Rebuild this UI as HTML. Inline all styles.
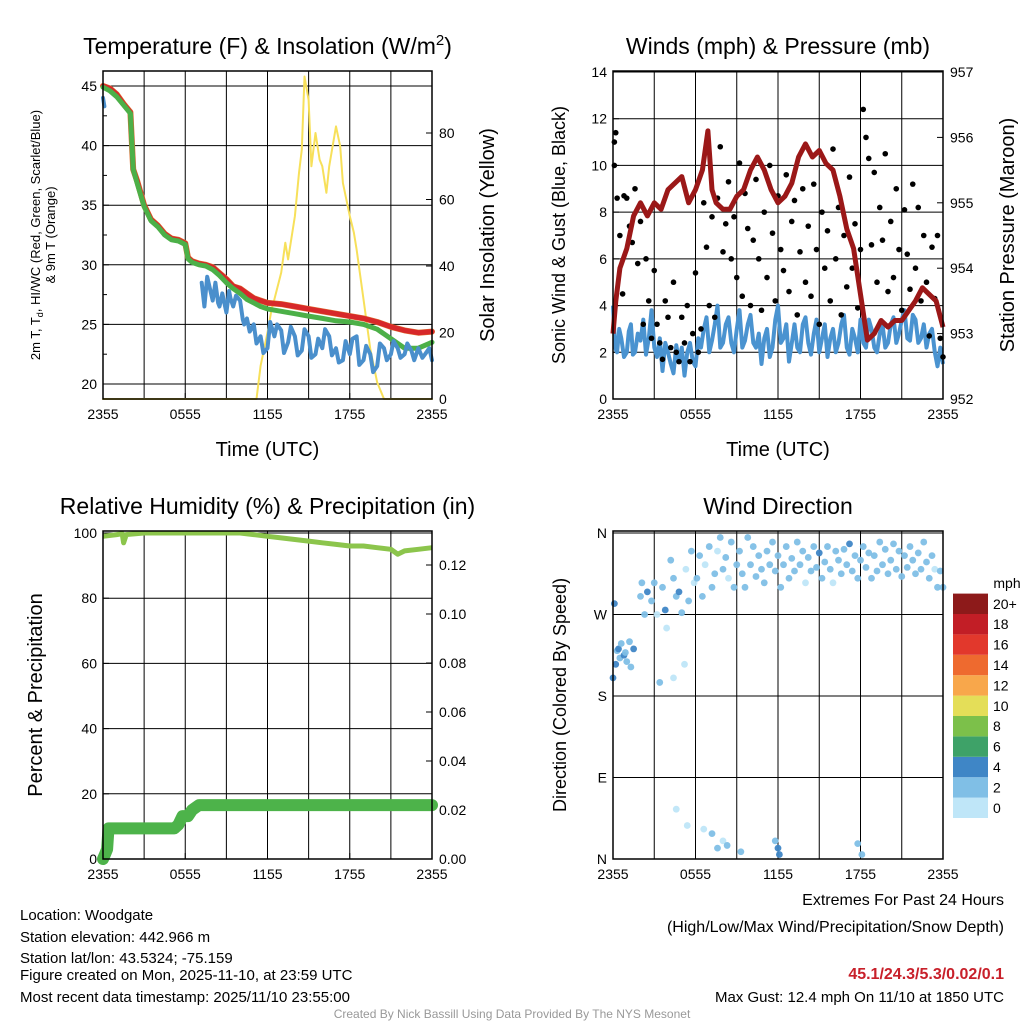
<!DOCTYPE html>
<html><head><meta charset="utf-8"><style>
body{margin:0;background:#fff;font-family:"Liberation Sans",sans-serif}
svg text{font-family:"Liberation Sans",sans-serif}
</style></head><body>
<svg id="s" width="1024" height="1024" viewBox="0 0 1024 1024">
<g id="g1"></g>
<g id="g2"></g>
<g id="g3"></g>
<g id="g4"></g>
<g font-size="15" fill="#000">
<text x="20" y="920">Location: Woodgate</text>
<text x="20" y="942">Station elevation: 442.966 m</text>
<text x="20" y="963">Station lat/lon: 43.5324; -75.159</text>
<text x="20" y="980">Figure created on Mon, 2025-11-10, at 23:59 UTC</text>
<text x="20" y="1002">Most recent data timestamp: 2025/11/10 23:55:00</text>
<text x="1004" y="905" text-anchor="end" font-size="16">Extremes For Past 24 Hours</text>
<text x="1004" y="932" text-anchor="end" font-size="16">(High/Low/Max Wind/Precipitation/Snow Depth)</text>
<text x="1004" y="979" text-anchor="end" font-size="16" font-weight="bold" fill="#c8202a">45.1/24.3/5.3/0.02/0.1</text>
<text x="1004" y="1002" text-anchor="end" font-size="15">Max Gust: 12.4 mph On 11/10 at 1850 UTC</text>
<text x="512" y="1018" text-anchor="middle" font-size="12" fill="#999">Created By Nick Bassill Using Data Provided By The NYS Mesonet</text>
</g>
</svg>
<script>
// ---- data ----
const xTickLabels=["2355","0555","1155","1755","2355"];
const tempRed=[[0,45],[0.5,44.8],[1,44.3],[1.5,43.5],[2,42.8],[2.2,38],[2.5,37],[3,35],[3.5,33.8],[4,33.3],[4.5,32.6],[5,32.2],[5.5,32.1],[6,31.8],[6.2,30.6],[6.5,30.3],[7,30.1],[7.5,30],[8,29.8],[8.5,29.3],[9,28.8],[9.5,28.2],[10,28],[10.5,27.6],[11,27.2],[11.5,27],[12,26.8],[13,26.7],[14,26.5],[15,26.3],[16,26.1],[17,25.9],[18,25.7],[19,25.5],[20,25.2],[21,24.8],[22,24.5],[23,24.3],[24,24.4]];
const tempGreen=[[0,44.9],[0.5,44.6],[1,44.1],[1.5,43.4],[2,42.7],[2.2,38],[2.5,36.8],[3,34.9],[3.5,33.7],[4,33.2],[4.5,32.5],[5,32.1],[5.5,32],[6,31.7],[6.2,30.5],[6.5,30.2],[7,30],[7.5,29.9],[8,29.6],[8.5,29.1],[9,28.5],[9.5,28],[10,27.6],[10.5,27.1],[11,26.8],[11.5,26.5],[12,26.3],[13,26.1],[14,25.9],[15,25.7],[16,25.5],[17,25.3],[18,25.2],[19,25],[20,24.6],[21,23.8],[22,23],[23,23],[24,23.5]];
const dewBlue=[[7.2,28.5],[7.4,26.5],[7.6,29],[7.8,28],[8,27],[8.2,28.5],[8.4,26.8],[8.5,26.5],[8.7,27.6],[9,26],[9.2,27.8],[9.3,27.2],[9.5,26.5],[9.7,27.4],[10,27],[10.2,25.4],[10.3,25],[10.5,25.5],[10.7,24.4],[11,25],[11.2,23.4],[11.5,24],[11.7,22.6],[12,23],[12.2,25.2],[12.4,24.4],[12.5,24],[12.7,25],[13,24.5],[13.2,22.6],[13.5,23.5],[13.7,24.8],[14,24],[14.2,22.4],[14.5,22.8],[14.7,24.6],[15,24],[15.2,22.2],[15.5,22.5],[15.7,23.8],[16,23],[16.2,24.6],[16.5,24],[16.7,22.4],[17,23],[17.2,21.8],[17.5,22],[17.7,23.6],[18,22.5],[18.2,23.8],[18.5,24],[18.7,21.6],[19,22],[19.2,23.2],[19.5,22.5],[19.7,21],[20,21.5],[20.2,23.4],[20.5,23],[20.7,22],[21,22.5],[21.2,23.6],[21.5,23],[21.7,22.2],[22,22.5],[22.2,23.4],[22.5,22.8],[22.7,22],[23,23],[23.3,22.2],[23.5,22.5],[23.8,23],[24,22]];
const dewStart=[[0,44],[0.1,43.3]];
const solar=[[0,0],[11.2,0],[11.5,10],[12,20],[12.3,27],[12.5,30],[13,38],[13.3,47],[13.5,42],[14,55],[14.3,68],[14.5,75],[14.7,97],[15,90],[15.2,70],[15.5,80],[15.8,72],[16,70],[16.3,62],[16.5,70],[17,82],[17.3,76],[17.5,65],[18,55],[18.3,50],[18.5,45],[19,30],[19.5,15],[20,5],[20.5,0],[24,0]];
const pressure=[[0,953],[0.2,953.5],[0.5,954],[1,954.3],[1.5,954.8],[2,955],[2.5,954.8],[3,955],[3.5,954.9],[4,955.2],[5,955.4],[5.5,955],[6,955.2],[6.5,955.5],[6.9,956.1],[7.2,955.2],[7.5,955],[8,954.9],[8.5,954.9],[9,955.1],[9.5,955.2],[10,955.5],[10.5,955.7],[11,955.5],[11.5,955.2],[12,955],[12.5,955.1],[13,955.3],[13.5,955.7],[14,955.9],[14.5,955.7],[15,955.8],[15.5,955.6],[16,955.5],[16.5,955.1],[17,954.6],[17.5,954.3],[18,953.6],[18.5,952.9],[19,953],[19.5,953.2],[20,953.1],[20.5,953.2],[21,953.2],[22,953.5],[22.5,953.7],[23,953.6],[23.5,953.5],[24,953.1]];
const sonic=[[0,4],[0.15,2.2],[0.3,2],[0.45,3],[0.6,2.6],[0.8,1.8],[1,2],[1.15,2.9],[1.3,3.2],[1.45,1.9],[1.6,2],[1.8,2.8],[2,2.5],[2.2,3.4],[2.4,1.9],[2.6,2.6],[2.8,3.8],[3,2.2],[3.2,1.8],[3.4,2.6],[3.6,1.2],[3.8,2.4],[4,2],[4.2,1.5],[4.4,1.1],[4.6,2.3],[4.8,1.6],[5,2.2],[5.2,1],[5.4,2],[5.6,2.4],[5.8,1.6],[6,1.4],[6.2,2.6],[6.4,2.2],[6.6,3],[6.8,3.5],[7,2],[7.2,2.5],[7.4,3.2],[7.6,4],[7.8,2.2],[8,2.4],[8.2,3.2],[8.4,3.5],[8.6,2.4],[8.8,2],[9,3],[9.2,3.8],[9.4,2.2],[9.6,2.5],[9.8,3.2],[10,3.6],[10.2,2.4],[10.4,2.2],[10.6,2.8],[10.8,1.5],[11,2.6],[11.2,3],[11.4,1.8],[11.6,2.2],[11.8,3.4],[12,4],[12.2,2.4],[12.4,2.6],[12.6,3.2],[12.8,1.6],[13,2.4],[13.2,3.2],[13.4,2.2],[13.6,2],[13.8,3.2],[14,3.5],[14.2,2.4],[14.4,1.9],[14.6,2.8],[14.8,3.4],[15,2],[15.2,2.6],[15.4,3.2],[15.6,1.8],[15.8,2.6],[16,3],[16.2,2],[16.4,2.4],[16.6,3.2],[16.8,3.6],[17,2.2],[17.2,1.9],[17.4,3],[17.6,2.6],[17.8,2],[18,3.4],[18.2,2.4],[18.4,2.2],[18.6,3.4],[18.8,3],[19,2.2],[19.2,2],[19.4,2.8],[19.6,3.2],[19.8,2.2],[20,2.4],[20.2,3.2],[20.4,3.5],[20.6,2.4],[20.8,2.8],[21,3.4],[21.2,3.8],[21.4,2.6],[21.6,2.5],[21.8,3.6],[22,3.4],[22.2,2.4],[22.4,2.6],[22.6,3.2],[22.8,2.2],[23,2.8],[23.2,3],[23.4,2],[23.6,1.4],[23.8,2.2],[24,1.5]];
const gusts=[[0.1,11],[0.1,10],[0.2,11.4],[0.3,8.6],[0.5,7],[0.7,4.5],[0.8,8.7],[1,8.6],[1.2,7.4],[1.4,6.7],[1.6,9],[1.8,5.8],[2,7.6],[2.2,3.2],[2.4,6],[2.6,4.2],[2.8,2.6],[3,5.5],[3.2,3.2],[3.4,2.4],[3.6,1.7],[3.8,4.2],[4,3.5],[4.2,2.2],[4.4,5],[4.6,2],[4.8,1.6],[5,3.5],[5.2,2.4],[5.4,4],[5.6,1.6],[5.8,2.8],[6,5.4],[6.2,2],[6.4,3],[6.6,8.4],[6.8,6.5],[7,4],[7.2,7.8],[7.4,3.5],[7.6,8.6],[7.8,10.8],[8,6.3],[8.2,7.5],[8.4,9.3],[8.6,6],[8.8,7.8],[9,5.2],[9.2,10.1],[9.4,4.4],[9.6,8.8],[9.8,7.3],[10,4],[10.2,6.8],[10.4,9.4],[10.6,6],[10.8,3.8],[11,8],[11.2,5.2],[11.4,10],[11.6,7.1],[11.8,4.2],[12,8.7],[12.2,6.4],[12.4,5.5],[12.6,9.6],[12.8,4.6],[13,7.6],[13.2,8.5],[13.4,3.6],[13.6,6.3],[13.8,9],[14,5],[14.2,7.4],[14.4,4.4],[14.6,9.2],[14.8,6.4],[15,3.2],[15.2,8],[15.4,5.6],[15.6,7.2],[15.8,4.2],[16,10.7],[16.2,6],[16.4,8.2],[16.6,3.6],[16.8,7],[17,4.8],[17.2,9.5],[17.4,5.6],[17.6,7.5],[17.8,3.9],[18,6.4],[18.2,12.4],[18.4,11.2],[18.6,10.3],[18.8,6.6],[19,9.7],[19.2,5],[19.4,8.2],[19.6,6.8],[19.8,10.5],[20,4.6],[20.2,7.6],[20.4,5.2],[20.6,9],[20.8,6.4],[21,3.8],[21.2,8.1],[21.4,6.2],[21.6,4.7],[21.8,9.2],[22,5.6],[22.2,8.2],[22.4,4.2],[22.6,7],[22.8,5],[23,2.7],[23.2,6.5],[23.4,4.3],[23.6,7],[23.8,2.6],[24,1.8]];
const rh=[[0,99],[1,99.5],[1.4,99.8],[1.5,97],[1.7,99.5],[3,100],[10,100],[11,99.5],[12,99],[13,98.5],[14,98],[15,97.5],[16,97],[17,96.5],[18,96],[19,96],[20,95.5],[21,95],[21.5,93.5],[22,94.5],[23,95],[24,95.5]];
const precip=[[0,0],[0.15,0.002],[0.3,0.004],[0.4,0.0125],[5.2,0.0125],[5.5,0.014],[5.8,0.0175],[6.2,0.0175],[6.5,0.02],[7,0.022],[24,0.022]];
const windDir=[[0,200,4],[0.1,282,4],[0.2,215,5],[0.3,230,3],[0.4,232,4],[0.5,222,3],[0.6,238,3],[0.8,225,4],[0.9,228,3],[1.0,218,3],[1.2,240,2],[1.3,212,3],[1.5,232,4],[2,290,3],[2.1,305,2],[2.3,270,3],[2.5,295,4],[2.8,285,3],[3,305,3],[3.2,270,1],[3.4,195,3],[3.6,300,2],[3.8,275,4],[3.9,255,1],[4.2,330,3],[4.4,310,2],[4.6,290,3],[4.8,295,4],[5,272,2],[5.3,320,1],[5.5,285,3],[5.7,340,2],[5.9,305,1],[6.1,310,3],[6.3,335,2],[6.5,290,3],[6.7,325,1],[7,345,3],[7.2,300,2],[7.4,315,3],[7.6,340,1],[7.8,355,3],[8,320,3],[8.2,333,2],[8.4,310,1],[8.6,350,3],[8.8,300,2],[9,325,3],[9.2,340,3],[9.4,315,2],[9.6,300,3],[9.8,355,3],[10,325,2],[10.2,345,3],[10.4,312,3],[10.6,335,2],[10.8,320,3],[11,305,2],[11.2,340,3],[11.4,325,3],[11.6,350,2],[11.8,318,3],[12,335,3],[12.2,300,2],[12.4,325,3],[12.6,345,3],[12.8,310,2],[13,332,3],[13.2,318,3],[13.4,350,2],[13.6,325,3],[13.8,340,3],[14,305,1],[14.2,333,3],[14.4,318,2],[14.6,345,3],[14.8,322,3],[15,338,4],[15.2,310,3],[15.4,328,2],[15.6,345,3],[15.8,320,3],[16,305,1],[16.2,340,3],[16.4,330,3],[16.6,315,2],[16.8,342,3],[17,325,3],[17.2,348,4],[17.4,318,3],[17.6,335,2],[17.8,310,3],[18,330,3],[18.2,345,2],[18.4,322,3],[18.6,338,3],[18.8,310,2],[19,335,3],[19.2,318,3],[19.4,350,2],[19.6,325,3],[19.8,342,3],[20,315,2],[20.2,330,3],[20.4,348,3],[20.6,320,2],[20.8,340,3],[21,312,3],[21.2,335,2],[21.4,322,3],[21.6,345,3],[21.8,330,3],[22,315,2],[22.2,338,3],[22.4,320,3],[22.6,350,2],[22.8,328,3],[23,310,3],[23.2,335,2],[23.4,320,1],[23.6,300,3],[23.8,318,2],[24,300,2],[4.4,200,1],[5.2,215,1],[4.6,55,1],[5.4,37,1],[6.6,33,1],[7.2,28,2],[7.6,12,3],[8,20,1],[8.3,15,3],[9.3,8,2],[11.8,20,3],[12,12,4],[12.1,5,4],[17.8,17,3],[18.1,5,2]];
const cbLabels=["0","2","4","6","8","10","12","14","16","18","20+"];
const cbColors=["#bfe6f8","#80bfe6","#3f86c6","#3ea268","#7cc04a","#e4de58","#f8a74b","#ee6a2f","#e2382c","#c21e26","#8d1a1a"];

const NS="http://www.w3.org/2000/svg";
function mk(p,tag,at,txt){const e=document.createElementNS(NS,tag);for(const k in at)e.setAttribute(k,at[k]);if(txt!==undefined)e.textContent=txt;p.appendChild(e);return e;}
function lin(d0,d1,r0,r1){return v=>r0+(v-d0)*(r1-r0)/(d1-d0);}
function pathOf(arr,sx,sy){return arr.map((p,i)=>(i?"L":"M")+sx(p[0]).toFixed(1)+","+sy(p[1]).toFixed(1)).join("");}

function frame(g,L,T,R,B,title,xlab){
  const sx=lin(0,24,L,R);
  for(let h=3;h<24;h+=3){const l=mk(g,"line",{x1:sx(h),x2:sx(h),y1:T,y2:B,stroke:"#000","stroke-width":1});
    
    }
  xTickLabels.forEach((t,i)=>{const x=sx(i*6);
    const e=mk(g,"text",{x:x,y:B+20,"font-size":14,"text-anchor":"middle"},t);
    
    
    mk(g,"line",{x1:x,x2:x,y1:B,y2:B-6,stroke:"#000"});});
  const tt=mk(g,"text",{x:(L+R)/2,y:T-17,"font-size":23,"text-anchor":"middle"});tt.innerHTML=title;
  
  
  if(xlab){const xl=mk(g,"text",{x:(L+R)/2,y:B+57,"font-size":20,"text-anchor":"middle"},xlab);
    
    }
  return sx;
}
function yAxis(g,L,R,sy,ticks,fmt,side,grid){
  ticks.forEach(v=>{const y=sy(v);
    if(grid)mk(g,"line",{x1:L,x2:R,y1:y,y2:y,stroke:"#000","stroke-width":1});
    const x=side=="l"?L:R;
    mk(g,"line",{x1:x,x2:side=="l"?x+6:x-6,y1:y,y2:y,stroke:"#000"});
    const e=mk(g,"text",{x:side=="l"?x-6:x+7,y:y+5,"font-size":14,"text-anchor":side=="l"?"end":"start"},fmt(v));
    
    
  });
}
function box(g,L,T,R,B){const r=mk(g,"rect",{x:L,y:T,width:R-L,height:B-T,fill:"none",stroke:"#000","stroke-width":1.5});
  }
function rotText(g,x,y,txt,size,name){const e=mk(g,"text",{x:0,y:0,"font-size":size,"text-anchor":"middle",transform:`translate(${x},${y}) rotate(-90)`},txt);
  return e;}

// Panel 1
(function(){
 const g=document.getElementById("g1");const L=103,T=71,R=432,B=399;
 const sx=frame(g,L,T,R,B,'Temperature (F) &amp; Insolation (W/m<tspan dy="-9" font-size="15">2</tspan><tspan dy="9">)</tspan>',"Time (UTC)");
 const sy=lin(20,45,384,86), sy2=lin(0,80,399,133);
 yAxis(g,L,R,sy,[20,25,30,35,40,45],v=>v,"l",true);
 yAxis(g,L,R,sy2,[0,20,40,60,80],v=>v,"r",false);
 [22.5,27.5,32.5,37.5,42.5].forEach(v=>mk(g,"line",{x1:L,x2:L+4,y1:sy(v),y2:sy(v),stroke:"#000"}));
 const p=(a,c,w,n,s2)=>{const e=mk(g,"path",{d:pathOf(a,sx,s2||sy),fill:"none",stroke:c,"stroke-width":w,"stroke-linejoin":"round","stroke-linecap":"round"});
   };
 p(solar,"#f7e05a",2,"solar-insolation-line",sy2);
 p(tempRed,"#e07030",6,"9m-temp-line");
 p(tempRed,"#d7282a",5,"2m-temp-line");
 p(tempGreen,"#4cb048",5,"wind-chill-line");
 p(dewStart,"#4a8fcc",4,"dewpoint-start-line");
 p(dewBlue,"#4a8fcc",4,"dewpoint-line");
 box(g,L,T,R,B);
 const e=rotText(g,40,235,"",13,"left-axis-title");
 e.innerHTML='<tspan x="0" dy="0">2m T, T<tspan font-size="9" dy="3">d</tspan><tspan dy="-3">, HI/WC (Red, Green, Scarlet/Blue)</tspan></tspan><tspan x="0" dy="15">&amp; 9m T (Orange)</tspan>';
 rotText(g,494,235,"Solar Insolation (Yellow)",20,"right-axis-title");
})();

// Panel 2
(function(){
 const g=document.getElementById("g2");const L=613,T=71,R=943,B=399;
 const sx=frame(g,L,T,R,B,"Winds (mph) &amp; Pressure (mb)","Time (UTC)");
 const sy=lin(0,14,399,72), sy2=lin(952,957,399,72);
 yAxis(g,L,R,sy,[0,2,4,6,8,10,12,14],v=>v,"l",true);
 yAxis(g,L,R,sy2,[952,953,954,955,956,957],v=>v,"r",false);
 const s=mk(g,"path",{d:pathOf(sonic,sx,sy),fill:"none",stroke:"#4a93d0","stroke-width":4,"stroke-linejoin":"round"});
 
 gusts.forEach(d=>{const c=mk(g,"circle",{cx:sx(d[0]),cy:sy(d[1]),r:2.8,fill:"#000"});
   });
 const pr=mk(g,"path",{d:pathOf(pressure,sx,sy2),fill:"none",stroke:"#9b1818","stroke-width":5,"stroke-linejoin":"round"});
 
 box(g,L,T,R,B);
 rotText(g,565,235,"Sonic Wind & Gust (Blue, Black)",18,"left-axis-title");
 rotText(g,1014,235,"Station Pressure (Maroon)",20,"right-axis-title");
})();

// Panel 3
(function(){
 const g=document.getElementById("g3");const L=103,T=531,R=432,B=859;
 const sx=frame(g,L,T,R,B,"Relative Humidity (%) &amp; Precipitation (in)",null);
 const sy=lin(0,100,859,533), sy2=lin(0,0.12,859,565);
 yAxis(g,L,R,sy,[0,20,40,60,80,100],v=>v,"l",true);
 yAxis(g,L,R,sy2,[0,0.02,0.04,0.06,0.08,0.1,0.12],v=>v.toFixed(2),"r",false);
 const a=mk(g,"path",{d:pathOf(rh,sx,sy),fill:"none",stroke:"#8cc54c","stroke-width":5,"stroke-linejoin":"round"});
 
 const b=mk(g,"path",{d:pathOf(precip,sx,sy2),fill:"none",stroke:"#4db34a","stroke-width":12,"stroke-linejoin":"round","stroke-linecap":"round"});
 
 box(g,L,T,R,B);
 rotText(g,42,695,"Percent & Precipitation",20,"left-axis-title");
})();

// Panel 4
(function(){
 const g=document.getElementById("g4");const L=613,T=531,R=943,B=859;
 const sx=frame(g,L,T,R,B,"Wind Direction",null);
 const sy=lin(0,360,859,533);
 const lab=["N","E","S","W","N"];
 yAxis(g,L,R,sy,[0,90,180,270,360],v=>lab[v/90],"l",true);
 windDir.forEach(d=>{const c=mk(g,"circle",{cx:sx(d[0]),cy:sy(d[1]),r:3.4,fill:cbColors[Math.min(10,Math.floor(d[2]/2))],opacity:0.95});
   });
 box(g,L,T,R,B);
 rotText(g,566,695,"Direction (Colored By Speed)",18,"left-axis-title");
 const t=mk(g,"text",{x:1007,y:588,"font-size":14,"text-anchor":"middle"},"mph");
 
 const h=20.4;
 cbLabels.forEach((l,i)=>{const y=818-(i+1)*h;
   const r=mk(g,"rect",{x:953,y:y,width:35,height:h,fill:cbColors[i]});
   
   const e=mk(g,"text",{x:993,y:y+h/2+5,"font-size":14},l);
   });
})();
</script>
</body></html>
